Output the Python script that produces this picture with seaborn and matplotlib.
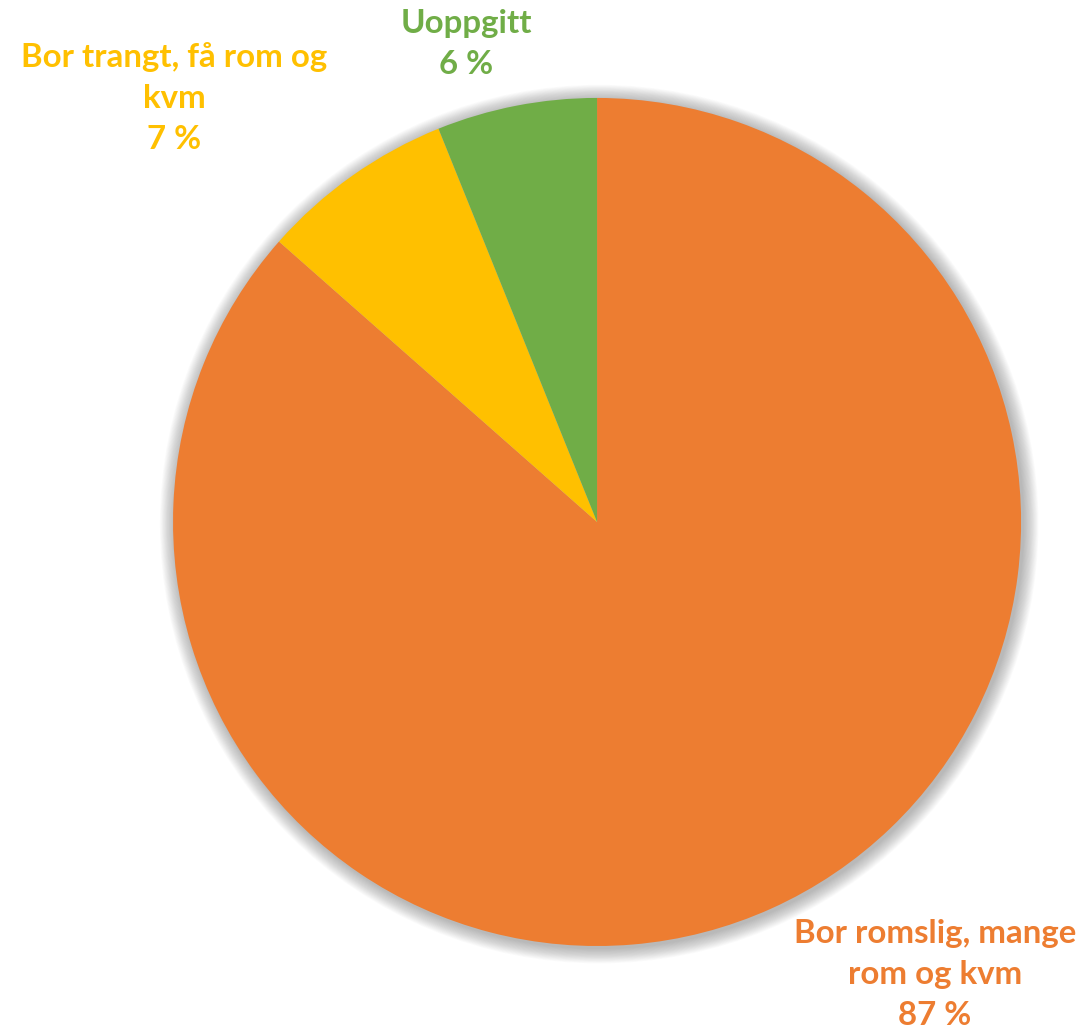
import matplotlib
matplotlib.use("Agg")
import matplotlib.pyplot as plt
import seaborn as sns
from matplotlib.patches import Circle

sns.set_theme(style="white")
plt.rcParams['font.family'] = ['Lato', 'DejaVu Sans']

categories = ["Bor romslig, mange\nrom og kvm", "Bor trangt, få rom og\nkvm", "Uoppgitt"]
values = [86.5, 7.4, 6.1]
pct_labels = ["87 %", "7 %", "6 %"]
colors = ["#ED7D31", "#FFC000", "#70AD47"]
label_pos = [(0.797, -1.068), (-0.998, 1.0), (-0.309, 1.127)]

fig = plt.figure(figsize=(10.86, 10.34), dpi=100)
ax = fig.add_axes([0, 0, 1, 1])

# soft shadow / glow
for i in range(20):
    r = 1.0 + 0.0018 * (i + 1)
    ax.add_patch(Circle((0.005, -0.005), r, facecolor='0.35', edgecolor='none',
                        alpha=0.022, zorder=0))

ax.pie(values, colors=colors, startangle=90, counterclock=False, radius=1.0,
       center=(0, 0), wedgeprops=dict(linewidth=0), frame=True)
ax.set_xlim(-1.408, 1.153)
ax.set_ylim(-1.2075, 1.231)
ax.set_aspect('equal')
ax.axis('off')

for cat, pct, col, (x, y) in zip(categories, pct_labels, colors, label_pos):
    ax.text(x, y, f"{cat}\n{pct}", color=col, ha='center', va='center',
            fontsize=23.8, fontweight='bold', linespacing=1.5)

fig.savefig("out.png", dpi=100, facecolor='white')
